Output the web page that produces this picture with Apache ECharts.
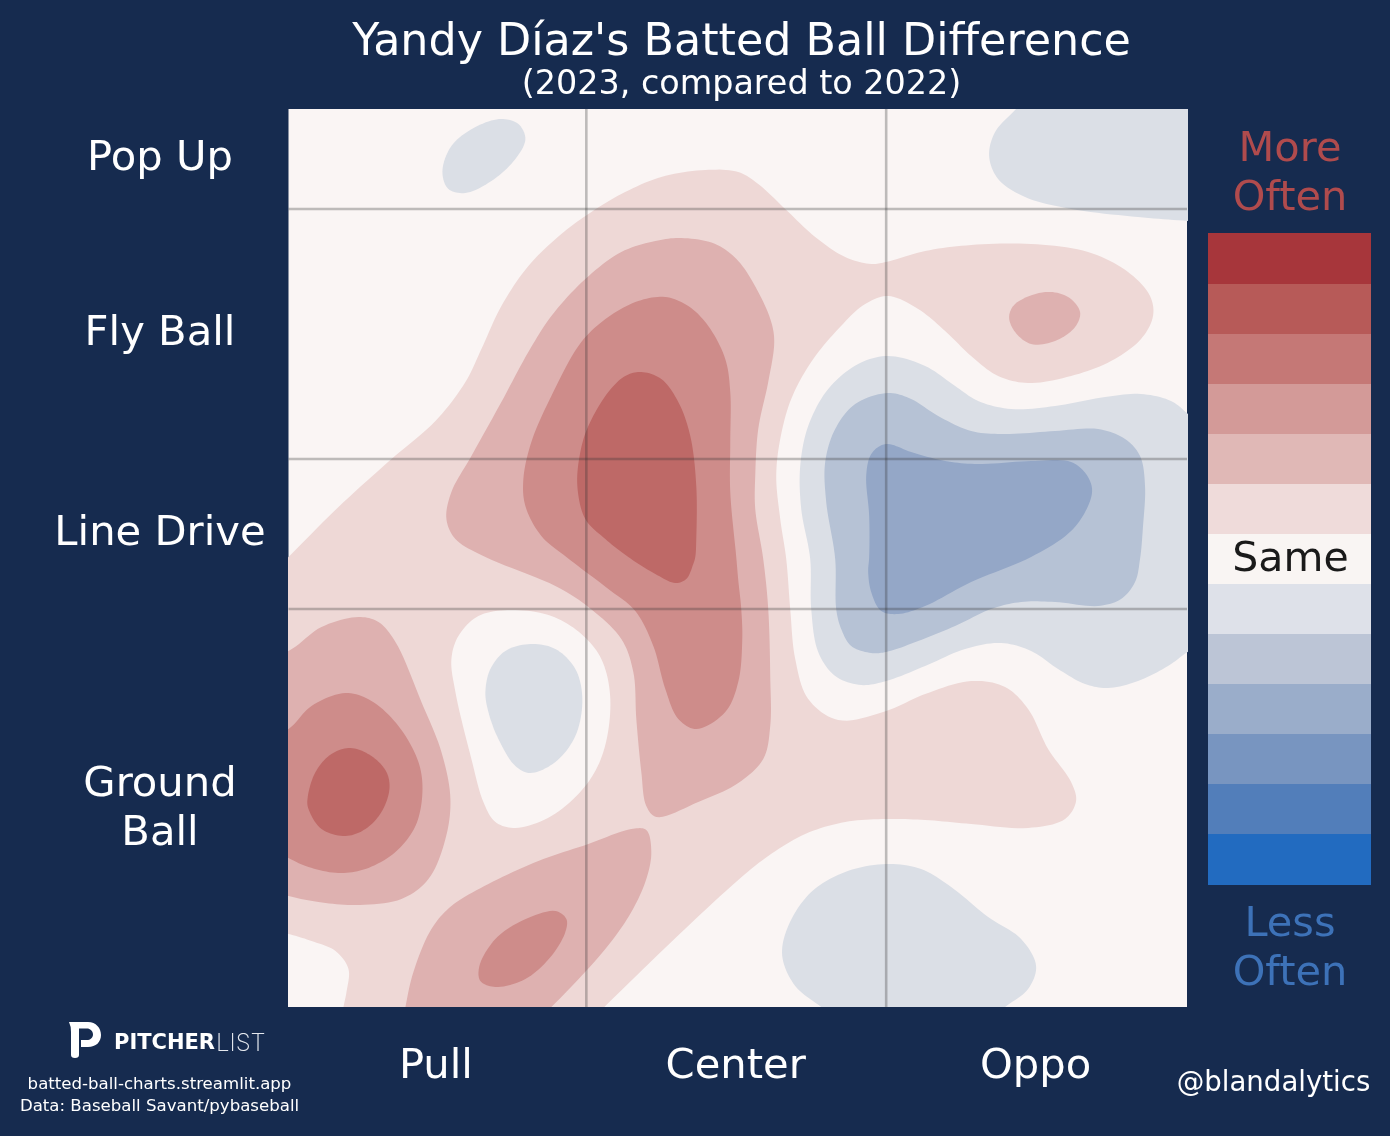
<!DOCTYPE html>
<html>
<head>
<meta charset="utf-8">
<style>html,body{margin:0;padding:0;background:#162B4F}#c{width:1390px;height:1136px}</style>
<script src="https://cdn.jsdelivr.net/npm/echarts@6/dist/echarts.min.js"></script>
</head>
<body>
<div id="c"></div>
<script>
// Axes: horizontal spray angle and launch angle, in degrees
const xRange = [-44.8, 45.1];
const yRange = [-29.8, 60];
const sprayLines = [-15, 15];
const launchLines = [10, 25, 50];
const xTickValues = [-30, 0, 30];
const xTickLabels = ['Pull', 'Center', 'Oppo'];
const yTickValues = [55, 37.5, 17.5, -10];
const yTickLabels = ['Pop Up', 'Fly Ball', 'Line Drive', 'Ground\nBall'];

// Contour level colours
const levelColors = {0:'#FAF5F4', 1:'#EED8D6', 2:'#DEB1B0', 3:'#CE8C8A', 4:'#BE6967', '-1':'#DBDFE6', '-2':'#B6C2D5', '-3':'#94A7C7'};

// Contour outlines [spray deg, launch deg]
const pinkMain = [[-46.6,13.4],[-44.8,15.2],[-39.8,20.2],[-34.5,25],[-30.1,28.8],[-27.1,32.7],[-25.5,36],[-23.5,40.3],[-20.8,44.3],[-17.5,47.5],[-14.8,49.5],[-11.5,51.5],[-7.5,53.2],[-3.1,53.9],[0.2,53.7],[2.2,52.5],[4.9,50],[7.9,47.2],[10.9,45.2],[13.5,44.5],[15,44.7],[18.9,45.8],[23.5,46.4],[29.5,46.5],[35.2,45.7],[39.2,43.7],[41.4,41.3],[41.7,39.3],[40.5,37],[37.5,34.8],[33.5,33.3],[29.2,32.6],[26.2,33.3],[23.5,35.3],[20.9,37.8],[18.2,40],[15.2,41.3],[12.9,40.5],[10.2,38],[7.5,34.7],[5.5,31],[4.4,27],[4,23.3],[4.4,19],[5,15],[5.4,10],[5.9,5],[7.2,1],[10.2,-1.1],[15,-0.2],[18.9,1.5],[23.5,2.8],[26.9,2.2],[29.2,0],[31.2,-4],[33.5,-7.3],[34,-9.2],[32.9,-11],[29.2,-11.9],[23.5,-11.5],[18.9,-11.1],[15,-11],[10.9,-11.3],[6.9,-12.5],[3.2,-14.7],[0.2,-17.1],[-6.5,-23.3],[-13.1,-29.7],[-15.1,-31.7],[-30,-34],[-48,-34],[-50,0]];
const cornerHole = [[-47,-22.1],[-44.8,-22.5],[-42.5,-23.2],[-40.1,-24.2],[-38.8,-26],[-39,-28.3],[-39.3,-29.8],[-39.6,-31.6],[-47,-32.5]];
const pullHole = [[-22.5,9.9],[-18.5,9.3],[-15.5,7.5],[-13.5,5],[-12.6,1],[-13.3,-4.3],[-15.1,-7.7],[-18.5,-10.7],[-22.1,-11.9],[-24.1,-11.3],[-25.3,-9.3],[-26.5,-5],[-28.1,1.7],[-28.5,5],[-27.8,7.3],[-25.8,9.3]];
const pullBlue = [[-20.6,6.5],[-18.1,6],[-16.1,4],[-15.4,1],[-16.1,-2.7],[-18.1,-5.3],[-20.6,-6.4],[-22.1,-5.7],[-23.8,-3],[-24.8,-0.3],[-25.1,1.7],[-24.6,4],[-23.1,5.8]];
const centerL2 = [[-5.5,47.1],[-2.1,46.5],[0.2,44.8],[2.2,41.7],[3.5,38.7],[3.8,36.7],[3.2,32.7],[2.2,28],[1.9,23.3],[1.9,20],[2.7,15],[3.2,10],[3.4,3.3],[3.4,-1.7],[2.7,-5],[0.2,-7.4],[-3.8,-9.3],[-8,-10.8],[-9,-9.7],[-9.5,-6.3],[-10,-1],[-10.3,3.7],[-11.5,7],[-14.8,10.2],[-18.1,12.3],[-25.1,15.2],[-28.1,17],[-29,19],[-28.5,21.7],[-26.5,25.3],[-23.5,30.7],[-20.8,35.7],[-18.5,39.3],[-15.1,43],[-11.5,45.7],[-8.1,46.8]];
const centerL3 = [[-7.1,41.2],[-4.8,40.3],[-2.8,38.3],[-1.1,35],[-0.6,31.7],[-0.6,26.7],[-0.6,21.7],[0,15.2],[0.2,12.9],[0.5,10],[0.6,6.9],[0.2,2.7],[-1.1,-0.3],[-4,-2],[-5.8,-1],[-7.1,2],[-8.3,6.3],[-10.1,9.8],[-12.8,12],[-17,15.2],[-19.5,17.3],[-21.1,20.3],[-21.3,23],[-20.5,26.7],[-18.5,31.3],[-15.5,36.7],[-12.8,39.2],[-9.8,40.8]];
const centerL4 = [[-9.5,33.7],[-7.5,33],[-5.8,30.7],[-4.6,27.3],[-4,22.3],[-4,17],[-4.1,15.2],[-4.3,14.5],[-5,13],[-6.1,12.6],[-8.1,13.5],[-10.8,15.2],[-13.1,17],[-15.1,19],[-15.9,22.3],[-15.6,25.7],[-14.8,28.3],[-12.8,31.7],[-11.1,33.3]];
const leftL2 = [[-50,4],[-44.8,5.8],[-41.5,8.2],[-37.8,9.2],[-35.8,8.7],[-34.1,6.7],[-31.5,0.7],[-29.5,-4.3],[-28.6,-9],[-29.1,-13],[-30.8,-17],[-33.5,-19],[-38.1,-19.6],[-41.8,-19.3],[-44.8,-18.7],[-50,-17]];
const leftL3 = [[-50,-4.5],[-44.8,-2],[-42.5,0.3],[-39.1,1.6],[-36.5,0.8],[-33.8,-1.7],[-31.8,-5.3],[-31.4,-8.3],[-32.1,-11.7],[-34.1,-14.3],[-37.1,-16],[-39.8,-16.4],[-42.8,-15.8],[-44.8,-14.9],[-50,-12]];
const leftL4 = [[-38.6,-3.9],[-36.5,-4.7],[-35,-6.3],[-34.7,-8],[-35.5,-10.3],[-37.1,-12],[-39.1,-12.7],[-41.5,-12],[-42.8,-10],[-42.9,-9],[-42.1,-6.3],[-40.5,-4.5]];
const bottomL2 = [[-9,-12.1],[-8.5,-14.3],[-9,-17],[-10.5,-20.3],[-13.1,-24],[-18.5,-29.8],[-20.5,-31.6],[-33.6,-33],[-33.1,-29.8],[-32.3,-26.3],[-30.5,-22],[-28.5,-19.7],[-24.8,-17.5],[-19.8,-15.2],[-14.8,-13.5],[-10.5,-12]];
const bottomL3 = [[-18.1,-20.2],[-17,-21],[-17.1,-22.3],[-18.5,-24.7],[-21.1,-27],[-24.1,-27.8],[-25.6,-27.2],[-25.7,-25.7],[-24.1,-23],[-21.5,-21.2]];
const rightL2 = [[30.9,41.7],[33.2,41.2],[34.4,39.7],[33.9,38.2],[31.9,36.8],[29.5,36.5],[27.9,37.7],[27.3,39.2],[27.9,40.5]];
const popBlue = [[-23.5,59],[-21.8,58.5],[-21.1,57],[-22.1,55],[-24.5,52.8],[-27.1,51.6],[-28.8,52],[-29.4,53.7],[-28.5,56.3],[-26.1,58.2]];
const cornerBlue = [[29.4,61.5],[28,60],[25.9,57.7],[25.3,55.3],[26.2,53],[28.9,51.2],[33.5,50],[40.2,49.2],[45.2,48.8],[50,48.4],[50,63]];
const blueL1 = [[50,25],[45.2,29.5],[43.5,30.8],[40.5,31.5],[36.9,31.2],[31.9,30.3],[27.5,30],[24.2,30.8],[21.9,32.3],[18.9,34.3],[15.2,35.3],[12.2,34.5],[9.2,32],[7.2,28.3],[6.4,24.3],[6.5,20],[7.4,15],[7.5,10],[8.2,5.7],[9.9,3.3],[12.5,2.4],[15,2.8],[18.9,4.3],[22.9,6],[26.5,6.6],[29.5,5.8],[32.2,4],[34.9,2.5],[37.2,2.1],[40.2,2.8],[43.2,4.3],[45,5.6],[50,9]];
const blueL2 = [[15.2,31.6],[17.5,31],[20.2,29.3],[23.5,27.8],[26.9,27.5],[31.9,27.8],[36.2,28],[38.9,27],[40.4,25.3],[40.9,22.3],[40.7,18.3],[40.4,15],[39.9,12.7],[38.5,11],[36.2,10.3],[31.9,10.7],[28.5,10.7],[25.5,10],[21.9,8.3],[18.2,6.8],[15,5.7],[13.5,5.6],[11.5,6.3],[10.5,8],[10,10],[9.9,15],[9,20.7],[8.9,24.7],[9.9,28],[11.9,30.5]];
const blueL3 = [[15.2,26.5],[17.5,25.7],[20.9,24.8],[24.2,24.5],[29.5,24.8],[33.5,24.7],[35,23.5],[35.6,22],[35.2,20.3],[33.5,17.8],[29.5,15.2],[23.5,12.7],[18.9,10.3],[16.2,9.5],[14.5,9.8],[13.5,11.7],[13.2,13.7],[13.3,15.2],[13.3,19.3],[13,23.3],[13.4,25.3],[14.2,26.2]];
const bottomBlue = [[15,-15.5],[18.5,-16],[21.5,-17.8],[25.2,-20.8],[28.5,-23],[30,-25.7],[29.2,-28],[26.9,-29.8],[24.9,-31.5],[10.4,-31.3],[8.5,-29.8],[5.9,-27.7],[4.6,-24.7],[5.2,-21.7],[7.5,-18.3],[10.9,-16.3]];

// Painted in order, later over earlier
const contourLevels = [1,0,0,-1,2,3,4,2,3,4,2,3,2,-1,-1,-1,-2,-3,-1];
const contourShapes = [pinkMain,cornerHole,pullHole,pullBlue,centerL2,centerL3,centerL4,leftL2,leftL3,leftL4,bottomL2,bottomL3,rightL2,popBlue,cornerBlue,blueL1,blueL2,blueL3,bottomBlue];

// Legend
const legendColors = ['#A7363B','#B75A58','#C57876','#D39A98','#E0B8B6','#EFDBDA','#F9F5F3','#DEE1E9','#BCC5D6','#9AADCA','#7895C0','#527EBA','#226BC0'];
const legendLabels = ['','','','','','','Same','','','','','',''];

const titleText = "Yandy Díaz's Batted Ball Difference";
const subtitleText = '(2023, compared to 2022)';
const logoPath = 'M69,1022 H88 C96,1022 101,1028 101,1035 C101,1042 96,1047 88,1047 H81 V1040 H87 C90,1040 93,1038 93,1034.5 C93,1031 90,1028.5 87,1028.5 H79 V1055 Q79,1058 75,1058 Q71,1058 71,1055 V1032 Q71,1026 69,1022 Z';

const font = 'DejaVu Sans';
const chart = echarts.init(document.getElementById('c'), null, {renderer:'canvas', width:1390, height:1136});

// Closed centripetal Catmull-Rom through screen points
function smoothClosed(pts, n){
  const out = [], m = pts.length;
  const knot = (a,b,t)=> t + Math.max(Math.sqrt(Math.hypot(b[0]-a[0],b[1]-a[1])), 1e-3);
  const mix = (a,b,ta,tb,t)=>[a[0]*(tb-t)/(tb-ta)+b[0]*(t-ta)/(tb-ta), a[1]*(tb-t)/(tb-ta)+b[1]*(t-ta)/(tb-ta)];
  for(let i=0;i<m;i++){
    const p0=pts[(i-1+m)%m], p1=pts[i], p2=pts[(i+1)%m], p3=pts[(i+2)%m];
    const t0=0, t1=knot(p0,p1,t0), t2=knot(p1,p2,t1), t3=knot(p2,p3,t2);
    for(let k=0;k<n;k++){
      const t=t1+(t2-t1)*k/n;
      const a1=mix(p0,p1,t0,t1,t), a2=mix(p1,p2,t1,t2,t), a3=mix(p2,p3,t2,t3,t);
      const b1=mix(a1,a2,t0,t2,t), b2=mix(a2,a3,t1,t3,t);
      out.push(mix(b1,b2,t1,t2,t));
    }
  }
  return out;
}
function polygonItem(params, api){
  const i = params.dataIndex;
  const pts = contourShapes[i].map(p => api.coord(p));
  return {type:'polygon', shape:{points:smoothClosed(pts,10)}, style:{fill:levelColors[contourLevels[i]]}};
}
const guideData = sprayLines.map(x=>[[x,yRange[0]],[x,yRange[1]]]).concat(launchLines.map(y=>[[xRange[0],y],[xRange[1],y]]));
function guideItem(params, api){
  const d = guideData[params.dataIndex];
  const a = api.coord(d[0]), b = api.coord(d[1]);
  return {type:'line', shape:{x1:a[0],y1:a[1],x2:b[0],y2:b[1]}, style:{stroke:'rgba(50,50,50,0.3)', lineWidth:2.6}};
}
function legendItem(params, api){
  const i = params.dataIndex;
  const c = api.coord([0, i]), s = api.size([1, 1]);
  const last = legendColors.length - 1;
  const top = Math.round(c[1]-s[1]/2) - (i===0?1:0);
  const bottom = Math.round(c[1]+s[1]/2) + (i===last?1:0);
  return {type:'rect', shape:{x:1208, y:top, width:163, height:bottom-top}, style:{fill:legendColors[i]},
    textContent: legendLabels[i] ? {style:{text:legendLabels[i], fill:'#1a1a1a', font:'41px "DejaVu Sans"'}} : undefined,
    textConfig: legendLabels[i] ? {position:'inside', offset:[1,1]} : undefined};
}

chart.setOption({
  animation:false,
  backgroundColor:'#162B4F',
  title:{text:titleText, subtext:subtitleText, left:736.5, top:16, textAlign:'center', itemGap:4,
    textStyle:{color:'#fff', fontFamily:font, fontWeight:'normal', fontSize:44.4},
    subtextStyle:{color:'#fff', fontFamily:font, fontSize:33.4}},
  grid:[
    {left:288.5, top:109, width:898.5, height:898, show:true, backgroundColor:levelColors[0], borderWidth:0},
    {left:1208, top:234, width:163, height:650, show:false}
  ],
  xAxis:[
    {type:'value', gridIndex:0, min:xRange[0], max:xRange[1], show:false},
    {type:'value', gridIndex:1, min:0, max:1, show:false}
  ],
  yAxis:[
    {type:'value', gridIndex:0, min:yRange[0], max:yRange[1], show:false},
    {type:'category', gridIndex:1, data:legendColors.map((c,i)=>i), inverse:true, show:false}
  ],
  series:[
    {type:'custom', name:'contours', coordinateSystem:'cartesian2d', xAxisIndex:0, yAxisIndex:0, clip:true, silent:true,
      renderItem:polygonItem, data:contourShapes.map(()=>[0,0]), z:2},
    {type:'custom', name:'guides', coordinateSystem:'cartesian2d', xAxisIndex:0, yAxisIndex:0, clip:true, silent:true,
      renderItem:guideItem, data:guideData.map(()=>[0,0]), z:3},
    {type:'custom', name:'xTicks', coordinateSystem:'cartesian2d', xAxisIndex:0, yAxisIndex:0, clip:false, silent:true, z:4,
      renderItem:(p,api)=>{const c=api.coord([xTickValues[p.dataIndex],yRange[0]]);
        return {type:'text', x:c[0]-0.5, y:c[1]+60.5, style:{text:xTickLabels[p.dataIndex], fill:'#fff', font:'41.7px "DejaVu Sans"', align:'center', verticalAlign:'middle'}};},
      data:xTickValues.map(()=>[0,0])},
    {type:'custom', name:'yTicks', coordinateSystem:'cartesian2d', xAxisIndex:0, yAxisIndex:0, clip:false, silent:true, z:4,
      renderItem:(p,api)=>{const c=api.coord([xRange[0],yTickValues[p.dataIndex]]);
        return {type:'text', x:c[0]-128.5, y:c[1]+0.5, style:{text:yTickLabels[p.dataIndex], fill:'#fff', font:'41.7px "DejaVu Sans"', align:'center', verticalAlign:'middle', lineHeight:49}};},
      data:yTickValues.map(()=>[0,0])},
    {type:'custom', name:'logo', coordinateSystem:'none', clip:false, silent:true, z:4,
      renderItem:()=>({type:'path', shape:{pathData:logoPath}, style:{fill:'#fff'}}), data:[[0]]},
    {type:'custom', name:'legend', coordinateSystem:'cartesian2d', xAxisIndex:1, yAxisIndex:1, clip:false, silent:true, z:4,
      renderItem:legendItem, data:legendColors.map((c,i)=>[0,i])}
  ],
  graphic:[
    {type:'text', x:1290, y:175, style:{text:'More\nOften', fill:'#B04B4D', font:'41.5px "DejaVu Sans"', align:'center', verticalAlign:'middle', lineHeight:49}},
    {type:'text', x:1290, y:950, style:{text:'Less\nOften', fill:'#3D72B8', font:'41.5px "DejaVu Sans"', align:'center', verticalAlign:'middle', lineHeight:49}},
    {type:'text', x:1273.5, y:1083.5, style:{text:'@blandalytics', fill:'#fff', font:'27.6px "DejaVu Sans"', align:'center', verticalAlign:'middle'}},
    {type:'text', x:159.5, y:1085, style:{text:'batted-ball-charts.streamlit.app', fill:'#fff', font:'16.6px "DejaVu Sans"', align:'center', verticalAlign:'middle'}},
    {type:'text', x:159.5, y:1107, style:{text:'Data: Baseball Savant/pybaseball', fill:'#fff', font:'16.6px "DejaVu Sans"', align:'center', verticalAlign:'middle'}},
    {type:'text', x:114, y:1044, style:{text:'PITCHER', fill:'#fff', font:'700 21px "DejaVu Sans"', align:'left', verticalAlign:'middle'}},
    {type:'text', x:216, y:1044, style:{text:'LIST', fill:'#E4E8EE', font:'200 24px Inter', align:'left', verticalAlign:'middle'}}
  ]
});
</script>
</body>
</html>
